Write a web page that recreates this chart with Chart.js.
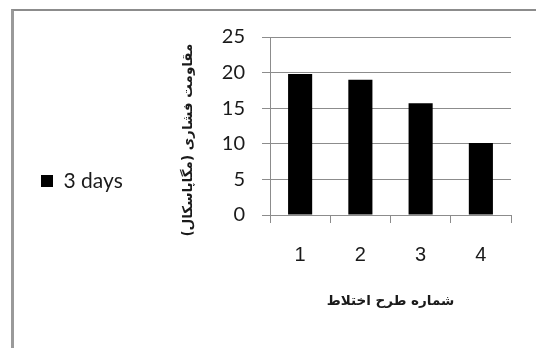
<!DOCTYPE html>
<html>
<head>
<meta charset="utf-8">
<script src="https://cdn.jsdelivr.net/npm/chart.js@4/dist/chart.umd.min.js"></script>
<style>
  html, body { margin: 0; padding: 0; background: #ffffff; }
  #wrap { position: relative; width: 536px; height: 348px; overflow: hidden; }
  #frame {
    position: absolute; left: 11px; top: 9px; right: -4px; bottom: -4px;
    border-top: 2px solid #8c8c8c; border-left: 3px solid #9a9a9a;
  }
  #c { position: absolute; left: 0; top: 0; }
</style>
</head>
<body>
<div id="wrap">
  <div id="frame"></div>
  <canvas id="c" width="536" height="348"></canvas>
</div>
<script>
// Compressive strength per mix design, 3-day series
const categories = ['1', '2', '3', '4'];
const seriesName = '3 days';
const strength = [19.8, 19.0, 15.7, 10.1];
const yTicks = [0, 5, 10, 15, 20, 25];
const yTitle = 'مقاومت فشاری (مگاپاسکال)      ';
const xTitle = 'شماره طرح اختلاط';

const gridColor = '#8c8c8c';
const padLeft = 21;
const plotLeft = 270;   // left edge of the plotting area
const xAxisHeight = 110;

new Chart(document.getElementById('c'), {
  type: 'bar',
  data: {
    labels: categories,
    datasets: [{
      label: seriesName,
      data: strength,
      backgroundColor: '#000000',
      borderWidth: 0,
      barPercentage: 0.4,
      categoryPercentage: 1.0
    }]
  },
  options: {
    responsive: false,
    animation: false,
    devicePixelRatio: 1,
    layout: { padding: { left: padLeft, top: 37, right: 25, bottom: 23 } },
    plugins: {
      tooltip: { enabled: false },
      legend: {
        position: 'left',
        labels: {
          boxWidth: 12, boxHeight: 12, padding: 20,
          color: '#1a1a1a',
          font: { family: 'Lato', size: 21 }
        }
      }
    },
    scales: {
      x: {
        grid: { display: true, drawOnChartArea: false, drawTicks: true, tickLength: 8, color: gridColor, offset: true },
        border: { display: true, color: gridColor, width: 1 },
        ticks: { color: '#1a1a1a', padding: 20, font: { family: 'Liberation Sans', size: 20 } },
        title: { display: true, text: xTitle, color: '#1a1a1a', padding: { top: 4, bottom: 15 }, font: { family: 'DejaVu Sans', size: 13.5, weight: 'bold' } },
        afterFit(s) { s.height = xAxisHeight; }
      },
      y: {
        min: 0, max: 25,
        afterBuildTicks(s) { s.ticks = yTicks.map(v => ({ value: v })); },
        grid: { drawOnChartArea: true, drawTicks: true, tickLength: 8, color: gridColor },
        border: { display: true, color: gridColor, width: 1 },
        ticks: { color: '#1a1a1a', padding: 17, font: { family: 'Lato', size: 20 } },
        title: { display: true, text: yTitle, color: '#1a1a1a', padding: { top: 48, bottom: 0 }, font: { family: 'DejaVu Sans', size: 13.5, weight: 'bold' } },
        afterFit(s) { s.width = plotLeft - padLeft - s.chart.legend.width; }
      }
    }
  }
});
</script>
</body>
</html>
